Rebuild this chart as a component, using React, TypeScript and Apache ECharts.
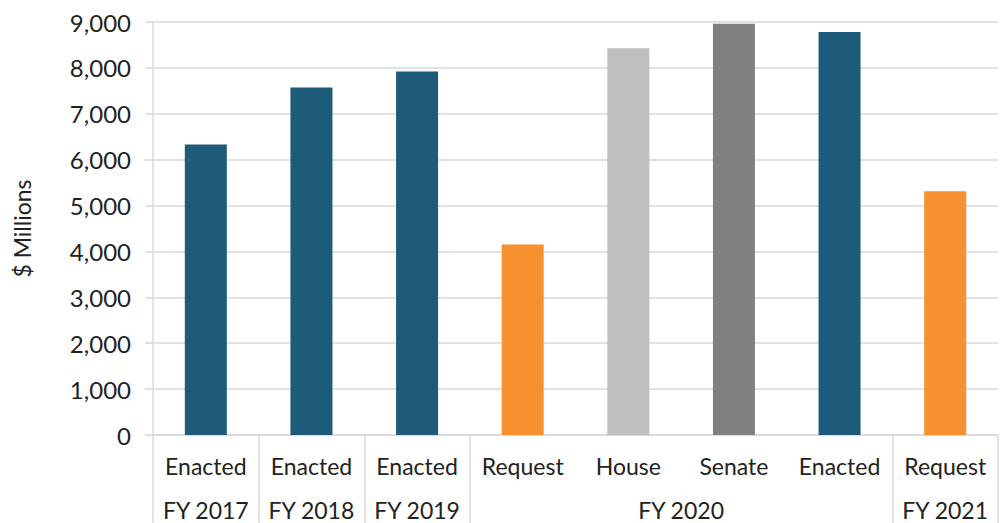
import React, { useEffect, useRef } from "react";
import * as echarts from "echarts";

const categories = ["Enacted", "Enacted", "Enacted", "Request", "House", "Senate", "Enacted", "Request"];
const fiscalYears = ["FY 2017", "FY 2018", "FY 2019", "FY 2020", "FY 2020", "FY 2020", "FY 2020", "FY 2021"];
const values = [6330, 7570, 7920, 4150, 8430, 8960, 8780, 5310];
const yTicks = { min: 0, max: 9000, interval: 1000 };

const colorByKind: Record<string, string> = {
  Enacted: "#1E5A7A",
  Request: "#F7902F",
  House: "#BFBFBF",
  Senate: "#7F7F7F",
};

const FONT = "Lato";
const TEXT = "#222222";
const GRID = "#D9D9D9";

export default function App() {
  const ref = useRef<HTMLDivElement>(null);
  useEffect(() => {
    if (!ref.current) return;
    const chart = echarts.init(ref.current, undefined, { renderer: "svg" });

    const groupStart = (i: number) => i === 0 || fiscalYears[i] !== fiscalYears[i - 1];
    const fyPoints: string[] = new Array(categories.length * 2 + 1).fill("");
    let s = 0;
    for (let i = 1; i <= fiscalYears.length; i++) {
      if (i === fiscalYears.length || fiscalYears[i] !== fiscalYears[i - 1]) {
        fyPoints[s + i] = fiscalYears[s];
        s = i;
      }
    }

    chart.setOption({
      animation: false,
      grid: { left: 153, right: 5, top: 22, bottom: 88, containLabel: false },
      xAxis: [
        {
          type: "category",
          data: categories,
          axisLine: { show: true, lineStyle: { color: GRID, width: 1.5 } },
          axisTick: {
            show: true,
            length: 88,
            interval: (i: number) => groupStart(i),
            lineStyle: { color: GRID, width: 1.5 },
          },
          axisLabel: { interval: 0, margin: 19, fontFamily: FONT, fontSize: 23, color: TEXT },
        },
        {
          type: "category",
          data: fyPoints,
          boundaryGap: false,
          position: "bottom",
          axisLine: { show: false },
          axisTick: { show: false },
          splitLine: { show: false },
          axisLabel: { interval: 0, margin: 63, fontFamily: FONT, fontSize: 23, color: TEXT },
        },
      ],
      yAxis: {
        type: "value",
        min: yTicks.min,
        max: yTicks.max,
        interval: yTicks.interval,
        name: "$ Millions",
        nameLocation: "middle",
        nameRotate: 90,
        nameGap: 120,
        nameTextStyle: { fontFamily: FONT, fontSize: 23, color: TEXT },
        axisLine: { show: true, lineStyle: { color: GRID, width: 1.5 } },
        axisTick: { show: true, length: 8, lineStyle: { color: GRID, width: 1.5 } },
        splitLine: { show: true, lineStyle: { color: GRID, width: 1.5 } },
        axisLabel: {
          margin: 22,
          fontFamily: FONT,
          fontSize: 24,
          color: TEXT,
          formatter: (v: number) => v.toLocaleString("en-US"),
        },
      },
      series: [
        {
          type: "bar",
          xAxisIndex: 0,
          barWidth: 42,
          data: values.map((v, i) => ({
            value: v,
            itemStyle: { color: colorByKind[categories[i]] },
          })),
        },
      ],
    });
    return () => chart.dispose();
  }, []);
  return (
    <div
      ref={ref}
      style={{ position: "fixed", left: 0, top: 0, width: 1003, height: 523, background: "#fff" }}
    />
  );
}
